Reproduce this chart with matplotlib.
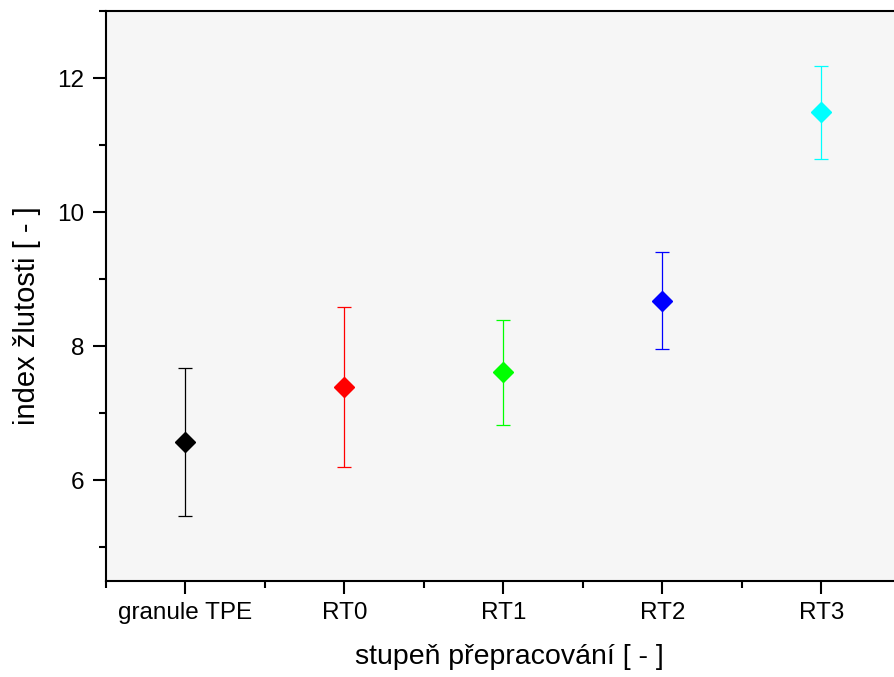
import matplotlib
matplotlib.use("Agg")
import matplotlib.pyplot as plt
from matplotlib.ticker import MultipleLocator

plt.rcParams['font.family'] = ['Liberation Sans', 'DejaVu Sans']

# data
categories = ["granule TPE", "RT0", "RT1", "RT2", "RT3"]
means = [6.57, 7.39, 7.61, 8.68, 11.49]
errors = [1.10, 1.19, 0.78, 0.72, 0.69]
colors = ["#000000", "#ff0000", "#00ff00", "#0000ff", "#00ffff"]

fig = plt.figure(figsize=(8.95, 6.77), dpi=100)
ax = fig.add_axes([0.1184, 0.1418, 0.888, 0.842])
ax.set_facecolor("#f6f6f6")

for i, (m, e, c) in enumerate(zip(means, errors, colors)):
    ax.errorbar(i, m, yerr=e, fmt="D", color=c, ecolor=c, markersize=10,
                elinewidth=0.9, capsize=4.7, capthick=0.9, zorder=3)

ax.set_xlim(-0.5, 4.5)
ax.set_ylim(4.5, 13)
ax.set_xticks(range(len(categories)))
ax.set_xticklabels(categories)
ax.xaxis.set_minor_locator(MultipleLocator(0.5))
ax.yaxis.set_major_locator(MultipleLocator(2))
ax.yaxis.set_minor_locator(MultipleLocator(1))

for s in ["left", "bottom", "top"]:
    ax.spines[s].set_linewidth(1.5)
ax.spines["right"].set_visible(False)

ax.tick_params(which="major", direction="out", length=9.4, width=1.5,
               labelsize=17.5, pad=6, top=False, right=False)
ax.tick_params(which="minor", direction="out", length=4.7, width=1.5,
               top=False, right=False)

ax.set_xlabel("stupeň přepracování [ - ]", fontsize=20.5, labelpad=14)
ax.set_ylabel("index žlutosti [ - ]", fontsize=21, labelpad=12)
# labels sit a bit off-centre in the original
ax.xaxis.label.set_x(0.508)
ax.yaxis.label.set_y(0.465)

fig.savefig("out.png", dpi=100)
